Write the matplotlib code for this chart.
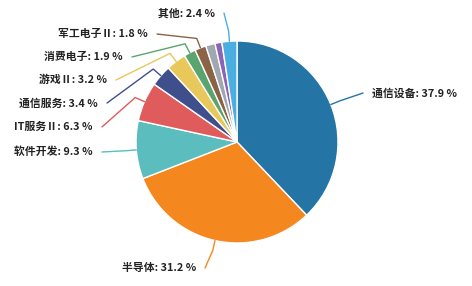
import matplotlib
matplotlib.use("Agg")
import matplotlib.pyplot as plt
import numpy as np

plt.rcParams['font.family'] = ['Noto Sans CJK SC', 'DejaVu Sans']

# data
names = ["通信设备", "半导体", "软件开发", "IT服务Ⅱ", "通信服务", "游戏Ⅱ",
         "消费电子", "军工电子Ⅱ", "", "", "其他"]
values = [37.9, 31.2, 9.3, 6.3, 3.4, 3.2, 1.9, 1.8, 1.5, 1.1, 2.4]
colors = ["#2474a6", "#f5871f", "#5bbdbd", "#e05b5b", "#3f4f8c", "#e8c85a",
          "#5aa46e", "#8b6347", "#9fa8b0", "#8d63b8", "#4aaee0"]

# label line end points (layout, data units; radius = 1)
label_ends = [(1.248, 0.485), (-0.317, -1.248), (-1.337, -0.099), (-1.337, 0.149),
              (-1.287, 0.386), (-1.198, 0.614), (-1.040, 0.842), (-0.792, 1.069),
              None, None, (-0.129, 1.277)]

fig = plt.figure(figsize=(4.72, 2.86), dpi=100)
ax = fig.add_axes([0, 0, 1, 1])

wedges, _ = ax.pie(values, colors=colors, startangle=90, counterclock=False,
                   radius=1.0, wedgeprops=dict(edgecolor="white", linewidth=1))
ax.set_aspect("auto")
ax.set_xlim(-2.347, 2.327)
ax.set_ylim(-1.426, 1.406)
ax.axis("off")

for w, name, v, c, end in zip(wedges, names, values, colors, label_ends):
    if end is None:
        continue
    ang = np.deg2rad((w.theta1 + w.theta2) / 2)
    p0 = (np.cos(ang), np.sin(ang))
    p1 = (1.1 * np.cos(ang), 1.1 * np.sin(ang))
    ax.plot([p0[0], p1[0], end[0]], [p0[1], p1[1], end[1]], color=c, lw=1,
            solid_capstyle="round")
    if end[0] >= 0:
        tx, ha = end[0] + 0.09, "left"
    else:
        tx, ha = end[0] - 0.09, "right"
    ax.text(tx, end[1], f"{name}: {v} %", ha=ha, va="center",
            fontsize=7.8, fontweight="bold", color="#222222")

fig.savefig("out.png", dpi=100)
